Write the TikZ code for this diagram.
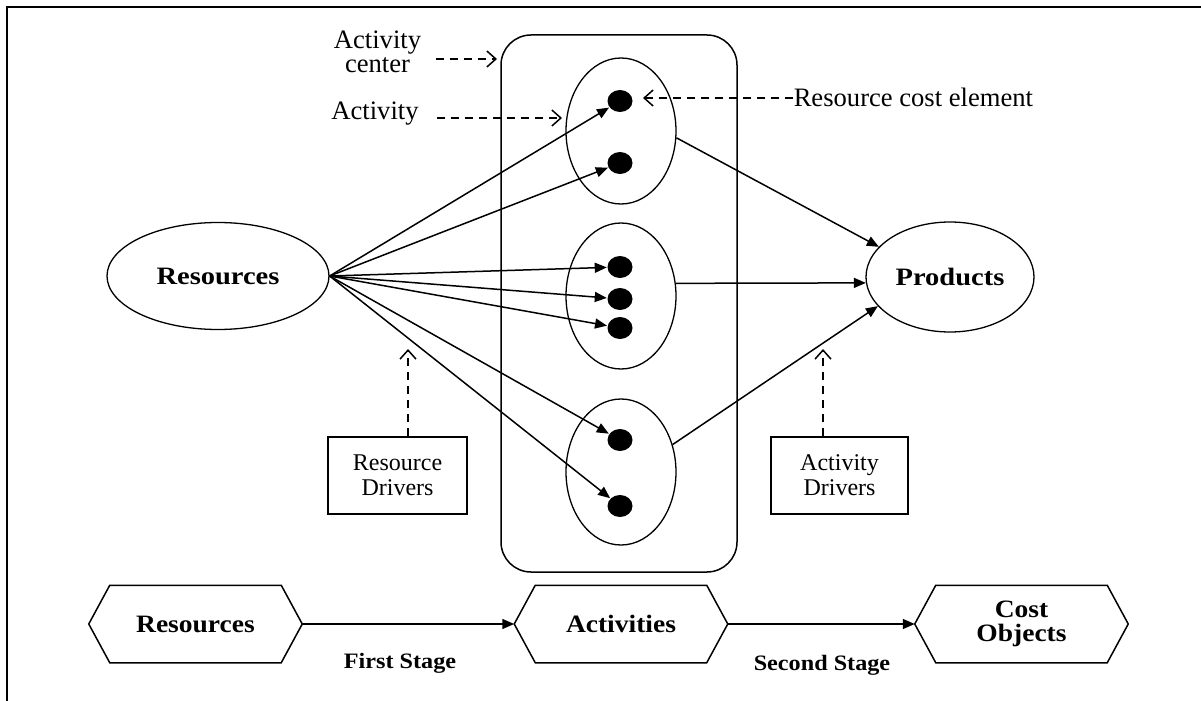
\documentclass[tikz,border=0pt]{standalone}
\usepackage{fontspec}
\setmainfont{Liberation Serif}
\newfontfamily\topbf[FakeStretch=1.14]{Liberation Serif}
\newfontfamily\lowbf[FakeStretch=1.1]{Liberation Serif}
\usetikzlibrary{shapes.geometric,arrows.meta,calc}

\begin{document}
\begin{tikzpicture}[x=0.5pt,y=-0.5pt,
  line width=0.75pt,
  solidarrow/.style={-{Triangle[length=6pt,width=5pt]}},
  dasharrow/.style={dash pattern=on 4pt off 3pt,-{Straight Barb[length=4.5pt,width=8pt]}},
  oval/.style={draw,ellipse,inner sep=0pt,line width=0.65pt},
  dot/.style={fill,ellipse,inner sep=0pt,minimum width=12.5pt,minimum height=11pt},
  lbl/.style={font=\fontsize{13.3}{12}\selectfont,inner sep=0pt,align=center},
  bigbold/.style={font=\topbf\bfseries\fontsize{12.5}{14}\selectfont},
  drvbox/.style={draw,line width=0.8pt,minimum height=38.5pt,align=center,inner sep=0pt,
    font=\fontsize{12}{12.5}\selectfont},
  hexnode/.style={minimum width=106pt,minimum height=38pt,inner sep=0pt,align=center,
    font=\lowbf\bfseries\fontsize{12.5}{12.2}\selectfont},
  stagelbl/.style={font=\lowbf\bfseries\fontsize{11}{12}\selectfont,inner sep=0pt,anchor=base},
]
\useasboundingbox (0,0) rectangle (1201,701);

% page frame
\draw[line width=1.2pt] (7,701) -- (7,7) -- (1201,7);

% main ovals
\node[oval,minimum width=111pt,minimum height=53.5pt,bigbold] (res) at (218,276) {Resources};
\node[oval,minimum width=84pt,minimum height=55pt,bigbold] (prod) at (950,277) {Products};

% activity center with its three activities
\node[draw,rounded corners=15pt,minimum width=118pt,minimum height=268.5pt,inner sep=0pt] (ctr) at (619,303.5) {};
\node[oval,minimum width=55pt,minimum height=73pt] (act1) at (621,131) {};
\node[oval,minimum width=55pt,minimum height=73pt] (act2) at (621,296) {};
\node[oval,minimum width=55pt,minimum height=73pt] (act3) at (621,472) {};

% resource cost elements
\node[dot] (d1) at (620,101) {};
\node[dot] (d2) at (620,163) {};
\node[dot] (d3) at (620,267) {};
\node[dot] (d4) at (620,299) {};
\node[dot] (d5) at (620,328) {};
\node[dot] (d6) at (620,440) {};
\node[dot] (d7) at (620,506) {};

% resource drivers
\foreach \d in {d1,d2,d3,d4,d5,d6,d7}
  \draw[solidarrow] (res.east) -- (\d);

% activity drivers
\draw[solidarrow] (act1.-7) -- (prod.157);
\draw[solidarrow] (act2.13) -- (prod.184);
\draw[solidarrow] (act3.28) -- (prod.202);

% callout labels
\node[lbl] (lac) at (377.5,52) {Activity\\center};
\node[lbl,anchor=base] (la) at (375,120) {Activity};
\node[lbl,anchor=base west] (lrce) at (793,107) {Resource cost element};
\coordinate (tc) at (497,59);
\coordinate (ta) at (562,118);
\coordinate (tr) at (643,98);
\draw[dasharrow] ([xshift=7pt]lac.east |- tc) -- (tc);
\draw[dasharrow] ([xshift=9pt]la.east |- ta) -- (ta);
\draw[dasharrow] (lrce.west |- tr) -- (tr);

% driver boxes
\node[drvbox,minimum width=69.5pt] (rdrv) at (397.5,475.5) {Resource\\Drivers};
\node[drvbox,minimum width=68.5pt] (adrv) at (839.5,475.5) {Activity\\Drivers};
\coordinate (rtip) at (408,349);
\coordinate (atip) at (823,349);
\draw[dasharrow] (rdrv.north -| rtip) -- (rtip);
\draw[dasharrow] (adrv.north -| atip) -- (atip);

% two-stage summary row
\node[hexnode] (hres) at (195.5,624) {Resources};
\node[hexnode] (hact) at (621,624) {Activities};
\node[hexnode] (hcost) at (1021.5,624) {Cost\\Objects};
\foreach \h in {hres,hact,hcost}
  \draw (\h.west) -- ([xshift=10.5pt]\h.north west) -- ([xshift=-10.5pt]\h.north east)
    -- (\h.east) -- ([xshift=-10.5pt]\h.south east) -- ([xshift=10.5pt]\h.south west) -- cycle;
\draw[solidarrow] (hres.east) -- (hact.west);
\draw[solidarrow] (hact.east) -- (hcost.west);
\node[stagelbl] (fs) at (400,668) {First Stage};
\node[stagelbl] (ss) at (822,670) {Second Stage};
\end{tikzpicture}
\end{document}
